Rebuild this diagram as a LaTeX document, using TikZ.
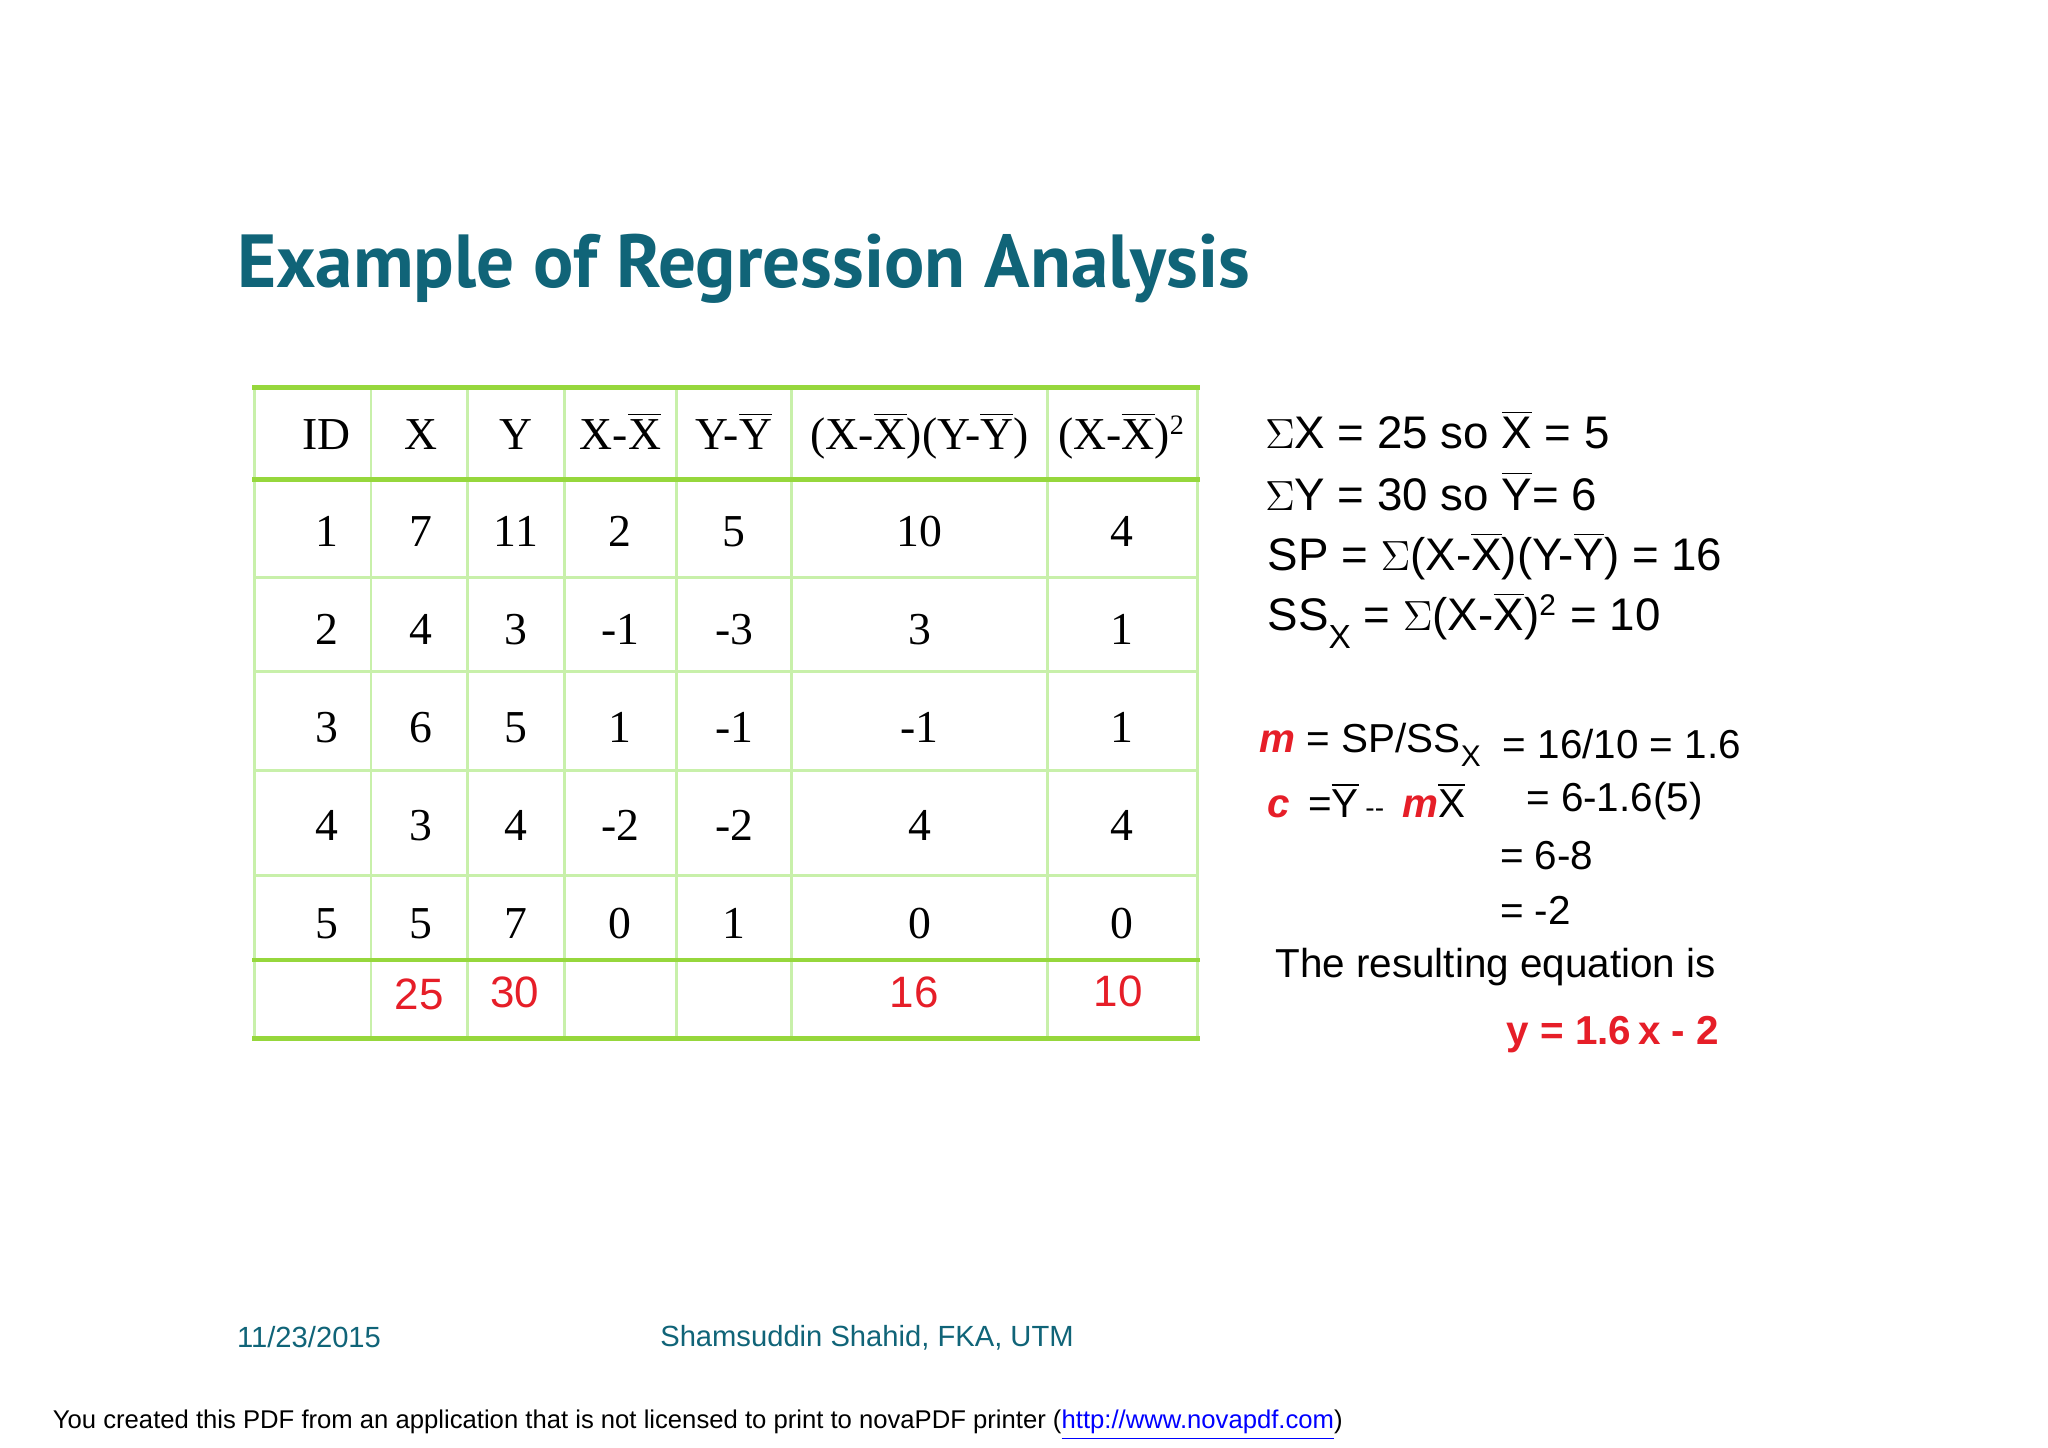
\documentclass[tikz,border=0pt]{standalone}
\usepackage{fontspec}
\setmainfont{Liberation Serif}
\newfontfamily\arial{Liberation Sans}
\newfontfamily\titlef{PT Sans}
\newcommand{\ob}[1]{$\overline{\hbox{#1}}$}
\definecolor{tgreen}{RGB}{150,215,60}
\definecolor{lgreen}{RGB}{200,240,170}
\definecolor{teal}{RGB}{16,100,120}
\definecolor{rred}{RGB}{230,30,40}
\begin{document}
\begin{tikzpicture}[x=0.01306cm,y=-0.01306cm,
  tc/.style={font=\fontsize{13}{15}\selectfont,anchor=center},
  th/.style={font=\fontsize{13}{15}\selectfont,anchor=base},
  rt/.style={font=\arial\fontsize{13}{15}\selectfont,anchor=west,inner sep=0},
  tot/.style={font=\arial\fontsize{12.5}{14}\selectfont,text=rred}]
\useasboundingbox (0,0) rectangle (1568,1108);
\fill[white] (0,0) rectangle (1568,1108);
\node[anchor=west,inner sep=0,text=teal,font=\titlef\bfseries\fontsize{21.4}{26}\selectfont] (title) at (181,206) {Example of Regression Analysis};
% table grid
\foreach \x in {195,284,358,432,518,606,802,917} \draw[lgreen,line width=0.8pt] (\x,297) -- (\x,795);
\foreach \y in {442,514,590,670} \draw[lgreen,line width=0.8pt] (195,\y) -- (917,\y);
\foreach \y in {297,367,735,795} \draw[tgreen,line width=1.4pt] (193,\y) -- (919,\y);
% header
\node[th] (h1) at (250,344) {ID};
\node[th] (h2) at (322,344) {X};
\node[th] (h3) at (395,344) {Y};
\node[th] (h4) at (475,344) {X-\ob{X}};
\node[th] (h5) at (562,344) {Y-\ob{Y}};
\node[th] (h6) at (704,344) {(X-\ob{X})(Y-\ob{Y})};
\node[th] (h7) at (859,344) {(X-\ob{X})$^{\hbox{\fontsize{8}{9}\selectfont 2}}$};
% rows
\foreach \a/\b/\c/\d/\e/\f/\g/\y [count=\i] in {1/7/11/2/5/10/4/407,2/4/3/-1/-3/3/1/482,3/6/5/1/-1/-1/1/557,4/3/4/-2/-2/4/4/632,5/5/7/0/1/0/0/707}{
  \node[tc] (c\i a) at (250,\y) {\a};
  \node[tc] (c\i b) at (322,\y) {\b};
  \node[tc] (c\i c) at (395,\y) {\c};
  \node[tc] (c\i d) at (475,\y) {\d};
  \node[tc] (c\i e) at (562,\y) {\e};
  \node[tc] (c\i f) at (704,\y) {\f};
  \node[tc] (c\i g) at (859,\y) {\g};
}
\node[tot] (t1) at (321,761) {25};
\node[tot] (t2) at (394,760) {30};
\node[tot] (t3) at (700,760) {16};
\node[tot] (t4) at (856,759) {10};
% right text
\node[rt] (r1) at (968,329) {$\Sigma$X = 25 so \ob{X} = 5};
\node[rt] (r2) at (968,376) {$\Sigma$Y = 30 so \ob{Y}= 6};
\node[rt] (r3) at (970,426) {SP = $\Sigma$(X-\ob{X})(Y-\ob{Y}) = 16};
\node[rt] (r4) at (970,475) {SS\raisebox{-5pt}{\fontsize{9.5}{11}\selectfont X} = $\Sigma$(X-\ob{X})$^{\hbox{\fontsize{8.5}{10}\selectfont 2}}$ = 10};
\node[rt,font=\arial\fontsize{11.5}{14}\selectfont] (m1) at (964,570) {{\color{rred}\bfseries\itshape m} = SP/SS\raisebox{-4pt}{\fontsize{8.5}{10}\selectfont X}};
\node[rt,font=\arial\fontsize{11.5}{14}\selectfont] (m2) at (1150,570) {= 16/10 = 1.6};
\node[rt,font=\arial\fontsize{11.5}{14}\selectfont] (c1) at (970,613) {{\color{rred}\bfseries\itshape c} \,=\ob{Y}\,{\fontsize{8}{10}\selectfont --}\, {\color{rred}\bfseries\itshape m}\ob{X}};
\node[rt,font=\arial\fontsize{11.5}{14}\selectfont] (c2) at (1168,613) {= 6-1.6(5)};
\node[rt,font=\arial\fontsize{11.5}{14}\selectfont] (c3) at (1148,655) {= 6-8};
\node[rt,font=\arial\fontsize{11.5}{14}\selectfont] (c4) at (1148,697) {= -2};
\node[rt,font=\arial\fontsize{11.5}{14}\selectfont] (res) at (976,740) {The resulting equation is};
\node[rt,text=rred,font=\arial\bfseries\fontsize{11.5}{14}\selectfont] (eq) at (1153,792) {y = 1.6\,x - 2};
% footer
\node[anchor=west,inner sep=0,text=teal,font=\arial\fontsize{8.3}{10}\selectfont] (date) at (181,1024) {11/23/2015};
\node[anchor=west,inner sep=0,text=teal,font=\arial\fontsize{8.3}{10}\selectfont] (auth) at (505,1024) {Shamsuddin Shahid, FKA, UTM};
\node[anchor=west,inner sep=0,font=\arial\fontsize{7.3}{9}\selectfont] (nova) at (40,1091) {You created this PDF from an application that is not licensed to print to novaPDF printer ({\color{blue}\underline{http://www.novapdf.com}})};
\end{tikzpicture}
\end{document}
